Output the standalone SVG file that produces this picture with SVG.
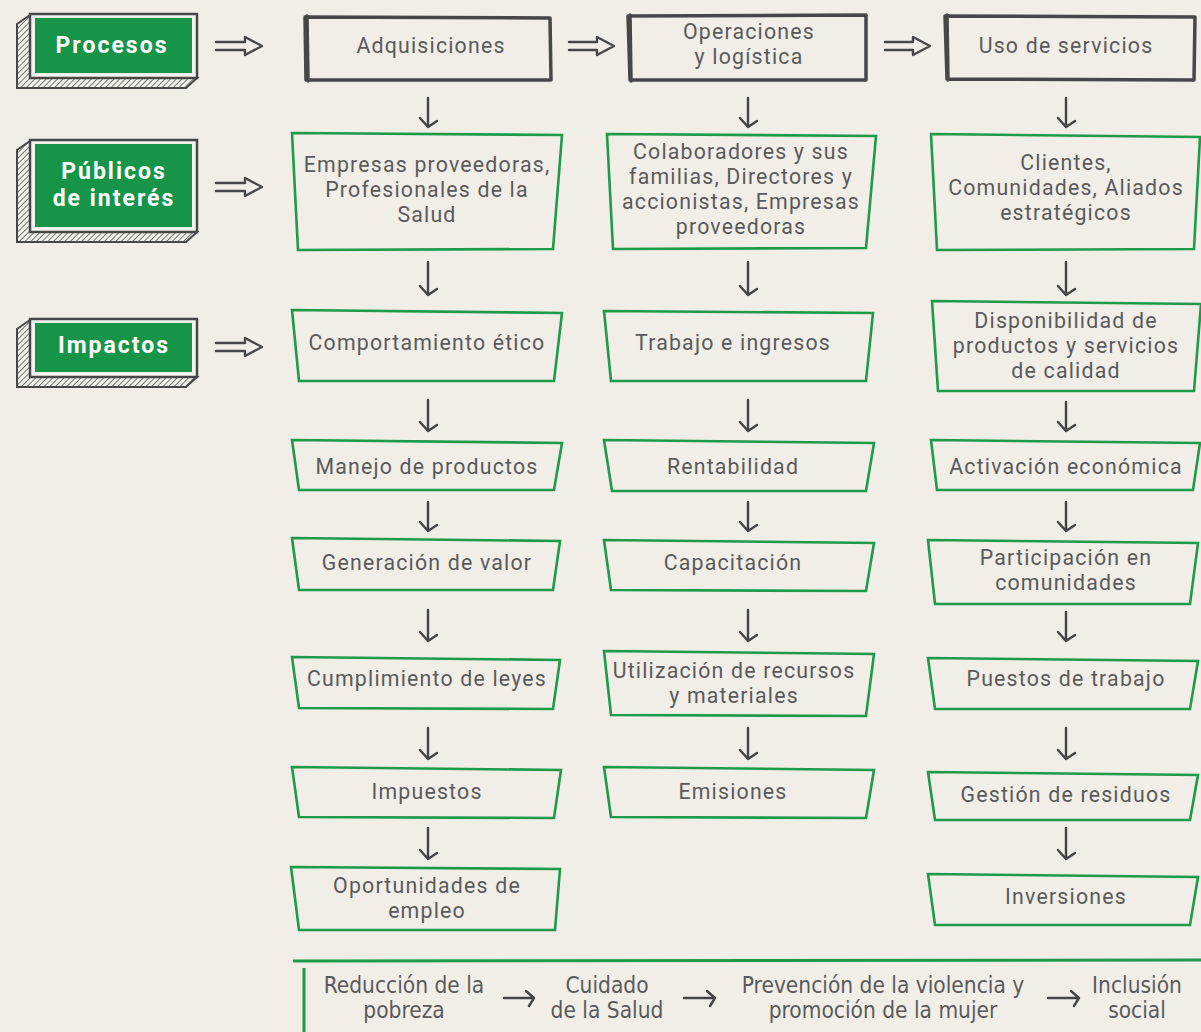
<svg xmlns="http://www.w3.org/2000/svg" width="1201" height="1032" viewBox="0 0 1201 1032">
<defs>
<pattern id="hatch" patternUnits="userSpaceOnUse" width="4" height="4" patternTransform="rotate(45)">
<rect width="4" height="4" fill="#f4f2ec"/>
<line x1="0" y1="0" x2="0" y2="4" stroke="#555" stroke-width="1.6"/>
</pattern>
</defs>
<style>
.bg{fill:#f0eee7}
.lbl{font-family:Roboto,"Liberation Sans",sans-serif;font-weight:700;font-size:23px;letter-spacing:2px;fill:#fff;text-anchor:middle}
.t{font-family:Roboto,"Liberation Sans",sans-serif;font-size:21.3px;letter-spacing:1.2px;fill:#5a5a5a;text-anchor:middle}
.b{font-family:"DejaVu Sans Condensed","Liberation Sans",sans-serif;font-size:22.5px;fill:#5a5a5a;text-anchor:middle}
.gbox{fill:none;stroke:#1f9a4b;stroke-width:2.6;stroke-linejoin:miter}
.pbox{fill:none;stroke:#474747;stroke-width:3.5;stroke-linejoin:round;stroke-linecap:round}
.frame{fill:#f4f2ec;stroke:#474747;stroke-width:2.5}
.green{fill:#169447;stroke:none}
.shadow{fill:url(#hatch);stroke:#474747;stroke-width:2}
.dbl{fill:none;stroke:#474747;stroke-width:2.4;stroke-linejoin:round;stroke-linecap:round}
.arr{fill:none;stroke:#444;stroke-width:2.4;stroke-linecap:round;stroke-linejoin:round}
.gl{stroke:#1f9a4b;stroke-width:3;fill:none}
</style>
<rect class="bg" x="0" y="0" width="1201" height="1032"/>

<!-- Left labels -->
<g id="lbl-procesos">
<polygon class="shadow" points="30,15 17,24 17,88 186,88 197,78 30,78"/>
<rect class="frame" x="30" y="14" width="167" height="64"/>
<rect class="green" x="35" y="18" width="157" height="55"/>
<text class="lbl" x="112" y="53">Procesos</text>
</g>
<g id="lbl-publicos">
<polygon class="shadow" points="30,141 17,150 17,242 186,242 197,232 30,232"/>
<rect class="frame" x="30" y="140" width="167" height="92"/>
<rect class="green" x="35" y="144" width="157" height="83"/>
<text class="lbl" x="114" y="179">Públicos<tspan x="114" dy="27">de interés</tspan></text>
</g>
<g id="lbl-impactos">
<polygon class="shadow" points="30,320 17,329 17,387 186,387 197,377 30,377"/>
<rect class="frame" x="30" y="319" width="167" height="58"/>
<rect class="green" x="35" y="323" width="157" height="49"/>
<text class="lbl" x="114" y="353">Impactos</text>
</g>

<!-- Process boxes -->
<g id="p-adquisiciones">
<path class="pbox" d="M305,17 L550,18 L551,80 L306,80 Z M307,16 L308,81"/>
<text class="t" x="431" y="53">Adquisiciones</text>
</g>
<g id="p-operaciones">
<path class="pbox" d="M628,16 L866,15 L866,80 L630,80 Z M630,15 L631,81"/>
<text class="t" x="749" y="39">Operaciones<tspan x="749" dy="25">y logística</tspan></text>
</g>
<g id="p-uso">
<path class="pbox" d="M945,16 L1195,17 L1194,80 L947,79 Z M947,15 L948,80"/>
<text class="t" x="1066" y="53">Uso de servicios</text>
</g>

<!-- Column 1 -->
<g id="c1-empresas">
<polygon class="gbox" points="292,133 562,135 553,249 298,250"/>
<text class="t" x="427" y="172">Empresas proveedoras,<tspan x="427" dy="25">Profesionales de la</tspan><tspan x="427" dy="25">Salud</tspan></text>
</g>
<g id="c1-comportamiento">
<polygon class="gbox" points="292,310 562,313 554,381 299,381"/>
<text class="t" x="427" y="350">Comportamiento ético</text>
</g>
<g id="c1-manejo">
<polygon class="gbox" points="292,440 562,443 554,490 299,490"/>
<text class="t" x="427" y="474">Manejo de productos</text>
</g>
<g id="c1-generacion">
<polygon class="gbox" points="292,538 560,541 553,590 299,590"/>
<text class="t" x="427" y="570">Generación de valor</text>
</g>
<g id="c1-cumplimiento">
<polygon class="gbox" points="292,657 560,660 553,709 299,708"/>
<text class="t" x="427" y="686">Cumplimiento de leyes</text>
</g>
<g id="c1-impuestos">
<polygon class="gbox" points="292,767 561,770 554,818 299,817"/>
<text class="t" x="427" y="799">Impuestos</text>
</g>
<g id="c1-oportunidades">
<polygon class="gbox" points="291,867 560,869 555,930 299,930"/>
<text class="t" x="427" y="893">Oportunidades de<tspan x="427" dy="25">empleo</tspan></text>
</g>

<!-- Column 2 -->
<g id="c2-colaboradores">
<polygon class="gbox" points="607,134 876,136 866,248 613,249"/>
<text class="t" x="741" y="159">Colaboradores y sus<tspan x="741" dy="25">familias, Directores y</tspan><tspan x="741" dy="25">accionistas, Empresas</tspan><tspan x="741" dy="25">proveedoras</tspan></text>
</g>
<g id="c2-trabajo">
<polygon class="gbox" points="604,311 873,313 866,381 611,381"/>
<text class="t" x="733" y="350">Trabajo e ingresos</text>
</g>
<g id="c2-rentabilidad">
<polygon class="gbox" points="604,440 874,443 866,491 612,491"/>
<text class="t" x="733" y="474">Rentabilidad</text>
</g>
<g id="c2-capacitacion">
<polygon class="gbox" points="604,540 874,543 866,591 611,590"/>
<text class="t" x="733" y="570">Capacitación</text>
</g>
<g id="c2-utilizacion">
<polygon class="gbox" points="604,651 874,654 866,716 611,715"/>
<text class="t" x="734" y="678">Utilización de recursos<tspan x="734" dy="25">y materiales</tspan></text>
</g>
<g id="c2-emisiones">
<polygon class="gbox" points="604,767 874,770 866,818 611,817"/>
<text class="t" x="733" y="799">Emisiones</text>
</g>

<!-- Column 3 -->
<g id="c3-clientes">
<polygon class="gbox" points="931,134 1200,137 1194,249 937,250"/>
<text class="t" x="1066" y="170">Clientes,<tspan x="1066" dy="25">Comunidades, Aliados</tspan><tspan x="1066" dy="25">estratégicos</tspan></text>
</g>
<g id="c3-disponibilidad">
<polygon class="gbox" points="932,301 1201,304 1194,391 938,391"/>
<text class="t" x="1066" y="328">Disponibilidad de<tspan x="1066" dy="25">productos y servicios</tspan><tspan x="1066" dy="25">de calidad</tspan></text>
</g>
<g id="c3-activacion">
<polygon class="gbox" points="931,440 1200,443 1193,490 937,490"/>
<text class="t" x="1066" y="474">Activación económica</text>
</g>
<g id="c3-participacion">
<polygon class="gbox" points="928,540 1198,543 1190,604 935,604"/>
<text class="t" x="1066" y="565">Participación en<tspan x="1066" dy="25">comunidades</tspan></text>
</g>
<g id="c3-puestos">
<polygon class="gbox" points="928,658 1198,661 1190,709 935,709"/>
<text class="t" x="1066" y="686">Puestos de trabajo</text>
</g>
<g id="c3-gestion">
<polygon class="gbox" points="928,772 1198,775 1190,820 935,820"/>
<text class="t" x="1066" y="802">Gestión de residuos</text>
</g>
<g id="c3-inversiones">
<polygon class="gbox" points="928,874 1198,877 1190,925 935,925"/>
<text class="t" x="1066" y="904">Inversiones</text>
</g>

<!-- Bottom band -->
<g id="bottom">
<line class="gl" x1="293" y1="961" x2="1201" y2="960"/>
<line class="gl" x1="304" y1="968" x2="304" y2="1032"/>
<text class="b" x="404" y="993">Reducción de la<tspan x="404" dy="25">pobreza</tspan></text>
<text class="b" x="607" y="993">Cuidado<tspan x="607" dy="25">de la Salud</tspan></text>
<text class="b" x="883" y="993">Prevención de la violencia y<tspan x="883" dy="25">promoción de la mujer</tspan></text>
<text class="b" x="1137" y="993">Inclusión<tspan x="1137" dy="25">social</tspan></text>
</g>

<!-- Connectors -->
<g id="connectors">
<path class="dbl" d="M216,42 H245 V37 L262,46 L245,55 V50 H216"/>
<path class="dbl" d="M216,183 H245 V178 L262,187 L245,196 V191 H216"/>
<path class="dbl" d="M216,343 H245 V338 L262,347 L245,356 V351 H216"/>
<path class="dbl" d="M569,42 H597 V37 L614,46 L597,55 V50 H569"/>
<path class="dbl" d="M885,42 H913 V37 L930,46 L913,55 V50 H885"/>

<path class="arr" d="M428,98 V127 M420,118 L428,127 L437,121"/>
<path class="arr" d="M428,262 V295 M420,286 L428,295 L437,289"/>
<path class="arr" d="M428,400 V431 M420,422 L428,431 L437,425"/>
<path class="arr" d="M428,502 V531 M420,522 L428,531 L437,525"/>
<path class="arr" d="M428,610 V641 M420,632 L428,641 L437,635"/>
<path class="arr" d="M428,728 V759 M420,750 L428,759 L437,753"/>
<path class="arr" d="M428,828 V859 M420,850 L428,859 L437,853"/>

<path class="arr" d="M748,98 V127 M740,118 L748,127 L757,121"/>
<path class="arr" d="M748,262 V295 M740,286 L748,295 L757,289"/>
<path class="arr" d="M748,400 V431 M740,422 L748,431 L757,425"/>
<path class="arr" d="M748,502 V531 M740,522 L748,531 L757,525"/>
<path class="arr" d="M748,610 V641 M740,632 L748,641 L757,635"/>
<path class="arr" d="M748,728 V759 M740,750 L748,759 L757,753"/>

<path class="arr" d="M1066,98 V127 M1058,118 L1066,127 L1075,121"/>
<path class="arr" d="M1066,262 V295 M1058,286 L1066,295 L1075,289"/>
<path class="arr" d="M1066,402 V431 M1058,422 L1066,431 L1075,425"/>
<path class="arr" d="M1066,502 V531 M1058,522 L1066,531 L1075,525"/>
<path class="arr" d="M1066,612 V641 M1058,632 L1066,641 L1075,635"/>
<path class="arr" d="M1066,728 V759 M1058,750 L1066,759 L1075,753"/>
<path class="arr" d="M1066,828 V859 M1058,850 L1066,859 L1075,853"/>

<path class="arr" d="M504,998 H534 M526,991 L534,998 L529,1006"/>
<path class="arr" d="M684,998 H715 M707,991 L715,998 L710,1006"/>
<path class="arr" d="M1048,998 H1079 M1071,991 L1079,998 L1074,1006"/>
</g>
</svg>
